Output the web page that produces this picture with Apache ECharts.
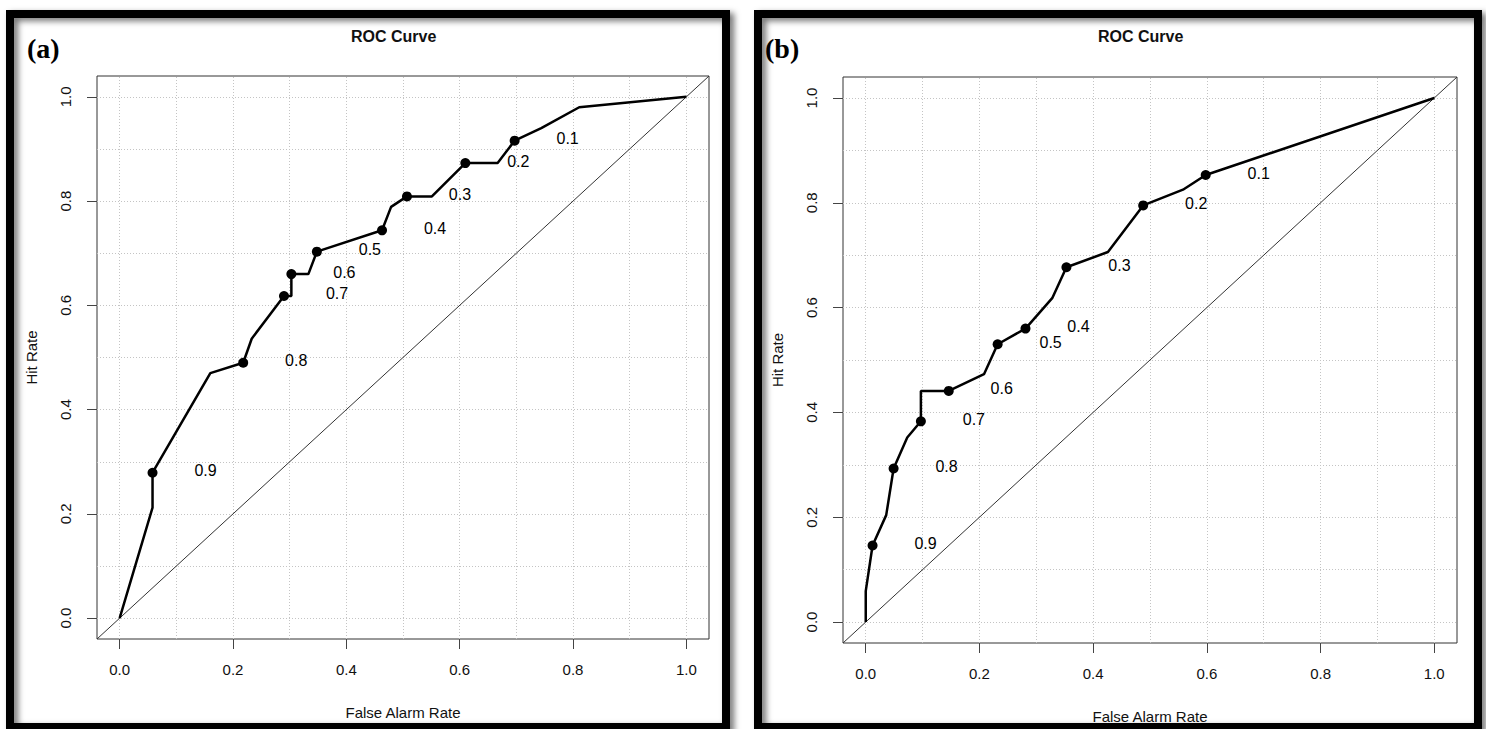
<!DOCTYPE html>
<html><head><meta charset="utf-8">
<script src="https://cdn.jsdelivr.net/npm/echarts@6/dist/echarts.min.js"></script>
<style>html,body{margin:0;padding:0;background:#fff}#c{width:1486px;height:729px}</style>
</head><body><div id="c"></div>
<script>
// ---------- data ----------
const panelLetters = ['(a)', '(b)'];
const chartTitle = 'ROC Curve';
const xAxisTitle = 'False Alarm Rate';
const yAxisTitle = 'Hit Rate';
const tickValues = [0, 0.2, 0.4, 0.6, 0.8, 1.0];
const gridValues = [0, 0.1, 0.2, 0.3, 0.4, 0.5, 0.6, 0.7, 0.8, 0.9, 1.0];
const axisRange = [-0.04, 1.04];
const diagonalLine = [-0.04, 1.04];
const thresholds = ['0.9', '0.8', '0.7', '0.6', '0.5', '0.4', '0.3', '0.2', '0.1'];

// panel (a)
const curveA_far = [0, 0.058, 0.058, 0.160, 0.218, 0.233, 0.290, 0.303, 0.303, 0.333, 0.348, 0.463, 0.479, 0.507, 0.551, 0.610, 0.667, 0.697, 0.744, 0.811, 1.0];
const curveA_hit = [0, 0.212, 0.279, 0.470, 0.490, 0.536, 0.618, 0.618, 0.660, 0.660, 0.703, 0.744, 0.789, 0.809, 0.809, 0.873, 0.873, 0.916, 0.940, 0.980, 1.0];
const pointsA_far = [0.058, 0.218, 0.290, 0.303, 0.348, 0.463, 0.507, 0.610, 0.697];
const pointsA_hit = [0.279, 0.490, 0.618, 0.660, 0.703, 0.744, 0.809, 0.873, 0.916];

// panel (b)
const curveB_far = [0, 0, 0.012, 0.036, 0.049, 0.073, 0.097, 0.097, 0.146, 0.208, 0.232, 0.281, 0.328, 0.353, 0.426, 0.488, 0.558, 0.598, 1.0];
const curveB_hit = [0, 0.059, 0.146, 0.204, 0.293, 0.352, 0.383, 0.441, 0.441, 0.473, 0.530, 0.560, 0.618, 0.677, 0.706, 0.795, 0.825, 0.853, 1.0];
const pointsB_far = [0.012, 0.049, 0.097, 0.146, 0.232, 0.281, 0.353, 0.488, 0.598];
const pointsB_hit = [0.146, 0.293, 0.383, 0.441, 0.530, 0.560, 0.677, 0.795, 0.853];

// ---------- chart ----------
const F = '"Liberation Sans", Arial, sans-serif';
const zip = (a, b) => a.map((v, i) => [v, b[i]]);
const fmt = v => Number(v).toFixed(1);

function xAx(gi, gap) {
  return {
    type: 'value', gridIndex: gi, min: axisRange[0], max: axisRange[1],
    name: xAxisTitle, nameLocation: 'middle', nameGap: gap,
    nameTextStyle: { fontSize: 15, color: '#111', fontFamily: F },
    axisLine: { show: false, onZero: false },
    axisTick: { show: true, customValues: tickValues, length: 10, lineStyle: { color: '#444', width: 1 } },
    axisLabel: { customValues: tickValues, formatter: fmt, margin: 23, fontSize: 15, color: '#111', fontFamily: F },
    splitLine: { show: false }
  };
}
function yAx(gi) {
  return {
    type: 'value', gridIndex: gi, min: axisRange[0], max: axisRange[1],
    name: yAxisTitle, nameLocation: 'middle', nameGap: 58, nameRotate: 90,
    nameTextStyle: { fontSize: 15, color: '#111', fontFamily: F },
    axisLine: { show: false, onZero: false },
    axisTick: { show: true, customValues: tickValues, length: 10, lineStyle: { color: '#444', width: 1 } },
    axisLabel: { customValues: tickValues, formatter: fmt, rotate: 90, margin: 24, fontSize: 15, color: '#111', fontFamily: F },
    splitLine: { show: false }
  };
}
function panelSeries(gi, cFar, cHit, pFar, pHit) {
  return [
    {
      type: 'line', xAxisIndex: gi, yAxisIndex: gi, z: 2,
      data: [[diagonalLine[0], diagonalLine[0]], [diagonalLine[1], diagonalLine[1]]],
      symbol: 'none', lineStyle: { color: '#333', width: 1 }, silent: true,
      markLine: {
        z: 1, silent: true, symbol: ['none', 'none'], label: { show: false }, animation: false,
        lineStyle: { type: [1, 2], color: '#c4c4c4', width: 1 },
        emphasis: { disabled: true },
        data: gridValues.map(v => ({ xAxis: v })).concat(gridValues.map(v => ({ yAxis: v })))
      }
    },
    {
      type: 'line', xAxisIndex: gi, yAxisIndex: gi, z: 10,
      data: zip(cFar, cHit), symbol: 'none',
      lineStyle: { color: '#000', width: 2.5 }
    },
    {
      type: 'scatter', xAxisIndex: gi, yAxisIndex: gi, z: 11,
      data: zip(pFar, pHit), symbol: 'circle', symbolSize: 10,
      itemStyle: { color: '#000', borderWidth: 0, opacity: 1 },
      label: {
        show: true, position: 'inside', offset: [53, -2],
        formatter: p => thresholds[p.dataIndex],
        fontSize: 16, color: '#000', fontFamily: F,
        textBorderWidth: 0, textBorderColor: 'transparent'
      }
    }
  ];
}

const chart = echarts.init(document.getElementById('c'), null, { renderer: 'svg' });
chart.setOption({
  animation: false,
  backgroundColor: '#fff',
  grid: [
    { left: 97, top: 76, width: 612, height: 563, show: true, borderColor: '#333', borderWidth: 1, backgroundColor: 'transparent' },
    { left: 843, top: 77, width: 614, height: 567, show: true, borderColor: '#333', borderWidth: 1, backgroundColor: 'transparent' }
  ],
  xAxis: [xAx(0, 66), xAx(1, 66)],
  yAxis: [yAx(0), yAx(1)],
  series: [].concat(
    panelSeries(0, curveA_far, curveA_hit, pointsA_far, pointsA_hit),
    panelSeries(1, curveB_far, curveB_hit, pointsB_far, pointsB_hit)
  ),
  graphic: [
    { type: 'text', left: 403 - 52, top: 28, z: 50, style: { text: chartTitle, font: 'bold 16px ' + F, fill: '#111', width: 104, align: 'center' } },
    { type: 'text', left: 1150 - 52, top: 28, z: 50, style: { text: chartTitle, font: 'bold 16px ' + F, fill: '#111', width: 104, align: 'center' } },
    { type: 'text', left: 27, top: 34, z: 50, style: { text: panelLetters[0], font: 'bold 28px "Liberation Serif", "Times New Roman", serif', fill: '#000' } },
    { type: 'text', left: 765, top: 34, z: 50, style: { text: panelLetters[1], font: 'bold 28px "Liberation Serif", "Times New Roman", serif', fill: '#000' } },
    { type: 'rect', z: 100, shape: { x: 10, y: 14, width: 716, height: 713 }, style: { fill: 'none', stroke: '#000', lineWidth: 8, shadowBlur: 6, shadowOffsetX: 4, shadowOffsetY: 3, shadowColor: 'rgba(0,0,0,0.55)' } },
    { type: 'rect', z: 100, shape: { x: 758, y: 14, width: 720, height: 713 }, style: { fill: 'none', stroke: '#000', lineWidth: 8, shadowBlur: 6, shadowOffsetX: 4, shadowOffsetY: 3, shadowColor: 'rgba(0,0,0,0.55)' } }
  ]
});
</script>
</body></html>
